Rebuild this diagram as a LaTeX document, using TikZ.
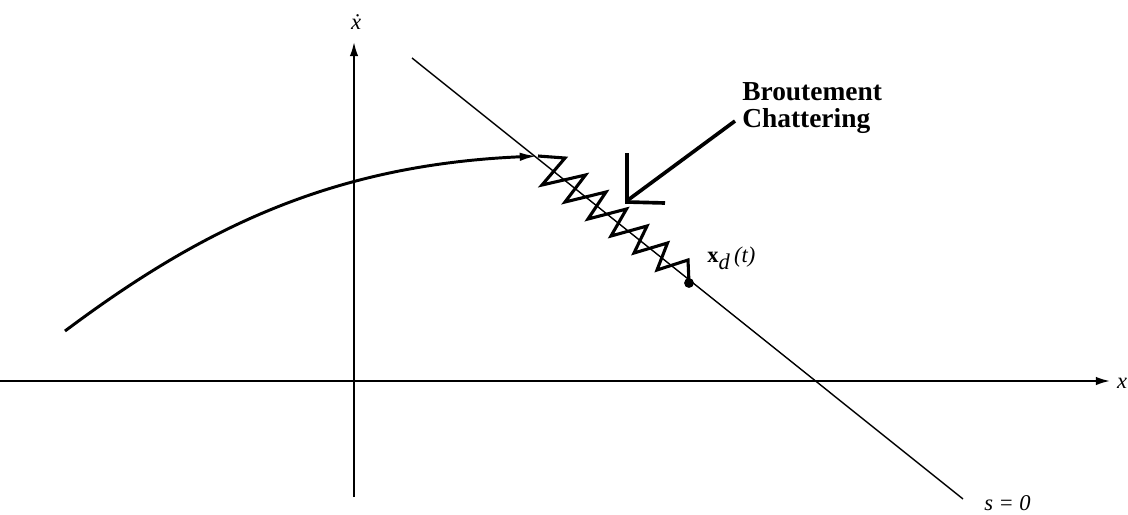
\documentclass[tikz,border=0pt]{standalone}
\usepackage{fontspec}
\setmainfont{Liberation Serif}
\usetikzlibrary{arrows.meta}
\tikzset{
  axis/.style={line width=1.4pt,-{Latex[length=10pt,width=6pt]}},
  traj/.style={line width=2.1pt},
  lbl/.style={inner sep=0pt},
  big/.style={font=\fontsize{16}{18}\selectfont\itshape}
}
\begin{document}
\begin{tikzpicture}[x=0.025cm,y=-0.025cm]
\useasboundingbox (0,0) rectangle (1128,514);
\coordinate (L) at (0,381);
\coordinate (R) at (1110,381);
\coordinate (B) at (354,497);
\coordinate (T) at (354,42);
\coordinate (S1) at (412,58);
\coordinate (S2) at (963,499);
\coordinate (P0) at (65,331);
\coordinate (P1) at (538,156);
\coordinate (XD) at (689,283);
\coordinate (A1) at (735,121);
\coordinate (A2) at (628,200);
\node[lbl,big](xlab) at (1122,383){x};
\node[lbl,big](xdotlab) at (356,22){\.x};
\node[lbl,big,anchor=west](slab) at (984,503){s = 0};
\node[lbl,anchor=base west,font=\fontsize{16}{18}\selectfont](xdlab) at (707,262){\textbf{x}$_{\textit{d}}$\,\textit{(t)}};
\node[lbl,anchor=north west,align=left,font=\fontsize{19.5}{19.5}\selectfont\bfseries](chat) at (742,82){Broutement\\Chattering};
\draw[axis] (L) -- (R);
\draw[axis] (B) -- (T);
\draw[line width=1pt] (S1) -- (S2);
\draw[traj,-{Latex[length=13pt,width=6pt]}] (P0) .. controls (200,230) and (330,165) .. (P1);
\draw[line width=2.2pt,line join=miter] (P1) -- (565,158) -- (542,185) -- (585.5,175) -- (565,202)
  -- (606,192) -- (588,219) -- (626.5,209) -- (611,236) -- (647,226) -- (634,253)
  -- (667.5,243) -- (657,270) -- (688,260) -- (XD);
\fill (XD) circle (3.5pt);
\draw[line width=2.6pt] (A1) -- (A2);
\draw[line width=2.6pt] (627,153) -- (627,202) -- (665,203);
\end{tikzpicture}
\end{document}
